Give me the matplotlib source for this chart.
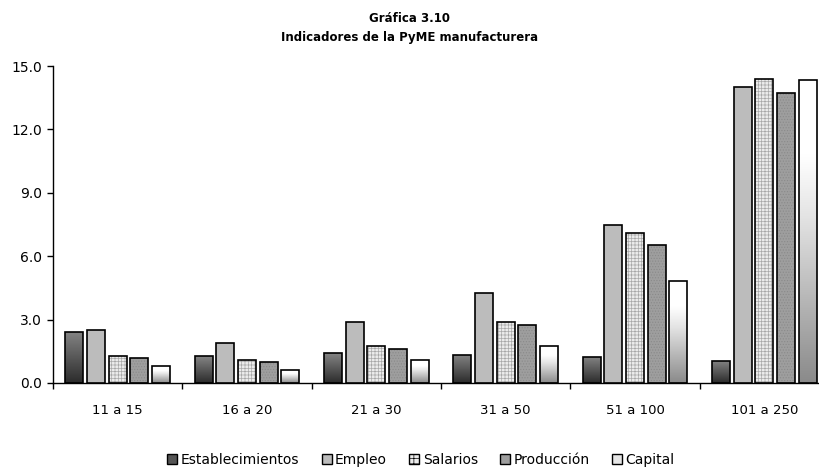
import numpy as np
import matplotlib
matplotlib.use("Agg")
import matplotlib.pyplot as plt
from matplotlib.patches import Patch
from matplotlib.colors import LinearSegmentedColormap

# --- Data ---
categorias = ["11 a 15", "16 a 20", "21 a 30", "31 a 50", "51 a 100", "101 a 250"]
series = ["Establecimientos", "Empleo", "Salarios", "Producción", "Capital"]
establecimientos = [2.43, 1.26, 1.41, 1.34, 1.25, 1.06]
empleo = [2.49, 1.88, 2.91, 4.26, 7.48, 14.01]
salarios = [1.26, 1.07, 1.74, 2.90, 7.11, 14.40]
produccion = [1.20, 0.99, 1.60, 2.76, 6.52, 13.74]
capital = [0.79, 0.60, 1.08, 1.74, 4.81, 14.34]
valores = [establecimientos, empleo, salarios, produccion, capital]
yticks = [0.0, 3.0, 6.0, 9.0, 12.0, 15.0]

# --- Figure ---
plt.rcParams['font.family'] = ['DejaVu Sans']
plt.rcParams['hatch.linewidth'] = 0.5
fig = plt.figure(figsize=(8.2, 4.67), dpi=100)
ax = fig.add_axes([53 / 820, 1 - 383 / 467, 776 / 820, 317 / 467])

x = np.arange(len(categorias))
pitch = 0.1675
width = 0.137
grad = np.linspace(0, 1, 256).reshape(-1, 1)
cmap_est = LinearSegmentedColormap.from_list("est", ["#2b2b2b", "#858585"])
cmap_cap = LinearSegmentedColormap.from_list(
    "cap", [(0.0, "#8a8a8a"), (0.55, "#e4e4e4"), (0.75, "#ffffff"), (1.0, "#ffffff")])

for i, (name, vals) in enumerate(zip(series, valores)):
    pos = x + (i - 2) * pitch
    if name in ("Establecimientos", "Capital"):
        bars = ax.bar(pos, vals, width, color="none", edgecolor="black", linewidth=1.2, zorder=3)
        cmap = cmap_est if name == "Establecimientos" else cmap_cap
        for b in bars:
            x0 = b.get_x()
            im = ax.imshow(grad, extent=[x0, x0 + b.get_width(), 0, b.get_height()],
                           origin="lower", aspect="auto", cmap=cmap, vmin=0, vmax=1, zorder=2)
            im.set_clip_path(b)
    elif name == "Salarios":
        ax.bar(pos, vals, width, color="#ececec", edgecolor="#a8a8a8", linewidth=0,
               hatch="+++++", zorder=2)
        ax.bar(pos, vals, width, color="none", edgecolor="black", linewidth=1.2, zorder=3)
    elif name == "Producción":
        ax.bar(pos, vals, width, color="#9e9e9e", edgecolor="#8a8a8a", linewidth=0,
               hatch="......", zorder=2)
        ax.bar(pos, vals, width, color="none", edgecolor="black", linewidth=1.2, zorder=3)
    else:
        ax.bar(pos, vals, width, color="#bcbcbc", edgecolor="black", linewidth=1.2, zorder=3)

ax.set_xlim(-0.5, len(categorias) - 0.5)
ax.set_ylim(0, 15)
ax.set_yticks(yticks)
ax.set_yticklabels([f"{v:.1f}" for v in yticks], fontsize=10)
ax.set_xticks(np.arange(len(categorias) + 1) - 0.5)
ax.set_xticklabels([])
ax.set_xticks(x, minor=True)
ax.set_xticklabels(categorias, minor=True, fontsize=9.5)
ax.tick_params(axis="x", which="major", direction="out", length=4, width=1)
ax.tick_params(axis="x", which="minor", length=0, pad=15)
ax.tick_params(axis="y", direction="out", length=4, width=1, pad=4)
for s in ["top", "right"]:
    ax.spines[s].set_visible(False)
for s in ["left", "bottom"]:
    ax.spines[s].set_linewidth(1)

# --- Titles ---
fig.text(0.5, 1 - 18 / 467, "Gráfica 3.10", ha="center", va="center",
         fontsize=8.5, fontweight="bold", family=["Liberation Sans Narrow", "DejaVu Sans"])
fig.text(0.5, 1 - 38 / 467, "Indicadores de la PyME manufacturera", ha="center", va="center",
         fontsize=8.5, fontweight="bold", family=["Liberation Sans Narrow", "DejaVu Sans"])

# --- Legend ---
handles = [
    Patch(facecolor="#555555", edgecolor="black"),
    Patch(facecolor="#bcbcbc", edgecolor="black"),
    Patch(facecolor="#ececec", edgecolor="black", hatch="+++"),
    Patch(facecolor="#9e9e9e", edgecolor="black"),
    Patch(facecolor="#e6e6e6", edgecolor="black"),
]
fig.legend(handles, series, loc="center", bbox_to_anchor=(421 / 820, 1 - 460 / 467), ncol=5,
           frameon=False, fontsize=10, handlelength=0.72, handleheight=0.72,
           handletextpad=0.25, columnspacing=1.6, borderpad=0)

plt.savefig("out.png", dpi=100)
